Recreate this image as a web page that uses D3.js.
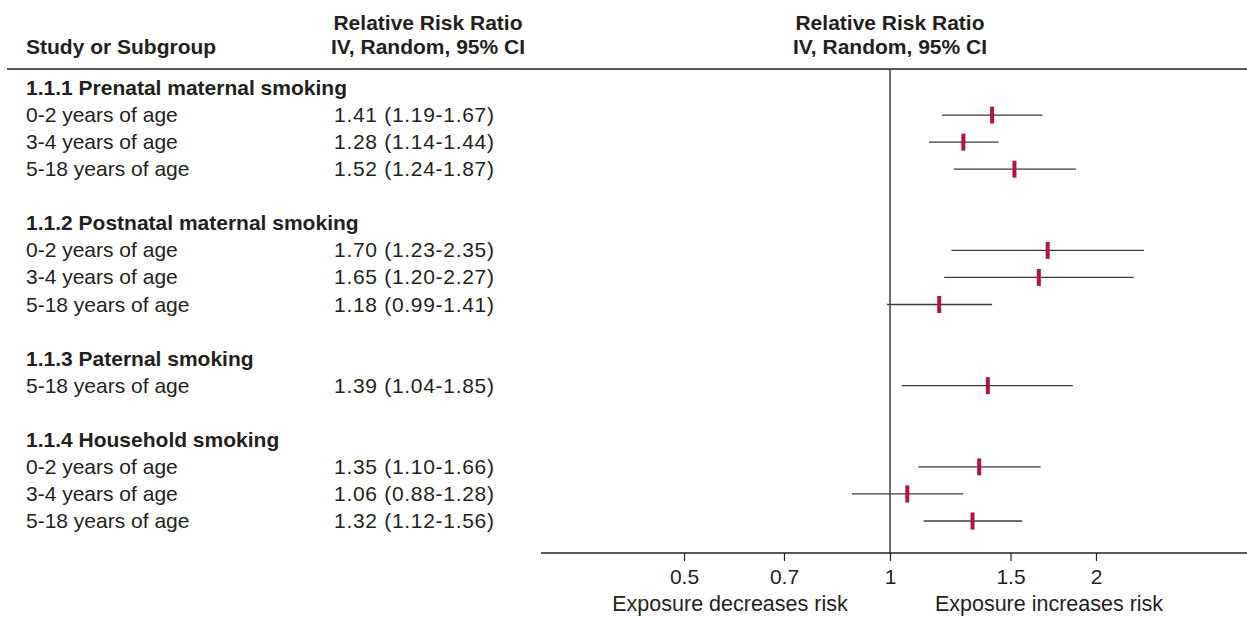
<!DOCTYPE html>
<html><head><meta charset="utf-8">
<script src="https://cdn.jsdelivr.net/npm/d3@7"></script>
<style>
body{margin:0;background:#fff;}
text{font-family:"Liberation Sans",Arial,Helvetica,sans-serif;fill:#231f20;}
</style></head>
<body>
<svg id="c" width="1247" height="617"></svg>
<script>
// ---- data ----
const groups = ["1.1.1 Prenatal maternal smoking","1.1.2 Postnatal maternal smoking","1.1.3 Paternal smoking","1.1.4 Household smoking"];
const rowGroup = [0,0,0,1,1,1,2,3,3,3];
const rowLabels = ["0-2 years of age","3-4 years of age","5-18 years of age","0-2 years of age","3-4 years of age","5-18 years of age","5-18 years of age","0-2 years of age","3-4 years of age","5-18 years of age"];
const rr    = [1.41,1.28,1.52,1.70,1.65,1.18,1.39,1.35,1.06,1.32];
const lower = [1.19,1.14,1.24,1.23,1.20,0.99,1.04,1.10,0.88,1.12];
const upper = [1.67,1.44,1.87,2.35,2.27,1.41,1.85,1.66,1.28,1.56];
const tickValues = [0.5,0.7,1,1.5,2];
const tickLabels = ["0.5","0.7","1","1.5","2"];

const svg = d3.select("#c");
const fmt = d3.format(".2f");

const layout = [];
let idx = 0;
groups.forEach((g, gi) => {
  layout.push({type:"header", text:g, i:idx++});
  rowLabels.forEach((l, ri) => { if (rowGroup[ri] === gi) layout.push({type:"row", r:ri, i:idx++}); });
  idx++;
});
const y = d3.scaleLinear().domain([0, 16]).range([88, 521]);
const x = d3.scaleLog().domain([0.5, 2]).range([684, 1096]);
const plotLeft = 541, plotRight = 1247, axisY = 553, topLine = 69;
const FS = 21;

svg.append("text").attr("x", 26).attr("y", 54).attr("font-size", FS).attr("font-weight", "bold").text("Study or Subgroup");
[428, 890].forEach(cx => {
  svg.append("text").attr("x", cx).attr("y", 30).attr("text-anchor","middle").attr("font-size",FS).attr("font-weight","bold").text("Relative Risk Ratio");
  svg.append("text").attr("x", cx).attr("y", 54).attr("text-anchor","middle").attr("font-size",FS).attr("font-weight","bold").text("IV, Random, 95% CI");
});
svg.append("line").attr("x1", 7).attr("x2", 1247).attr("y1", topLine).attr("y2", topLine).attr("stroke", "#231f20").attr("stroke-width", 1.5);

svg.append("line").attr("x1", x(1)).attr("x2", x(1)).attr("y1", topLine).attr("y2", axisY).attr("stroke", "#231f20").attr("stroke-width", 1.3);

layout.forEach(d => {
  const yy = y(d.i);
  if (d.type === "header") {
    svg.append("text").attr("x", 26).attr("y", yy + 7).attr("font-size", FS).attr("font-weight", "bold").text(d.text);
  } else {
    const r = d.r;
    svg.append("text").attr("x", 26).attr("y", yy + 7).attr("font-size", FS).text(rowLabels[r]);
    svg.append("text").attr("x", 334).attr("y", yy + 7).attr("font-size", FS).attr("letter-spacing", 0.7)
      .text(`${fmt(rr[r])} (${fmt(lower[r])}-${fmt(upper[r])})`);
    svg.append("line").attr("x1", x(lower[r])).attr("x2", x(upper[r])).attr("y1", yy).attr("y2", yy)
      .attr("stroke", "#3a3a3a").attr("stroke-width", 1.3);
    svg.append("rect").attr("x", x(rr[r]) - 2).attr("y", yy - 8.5).attr("width", 4).attr("height", 17).attr("fill", "#b5104e");
  }
});

svg.append("line").attr("x1", plotLeft).attr("x2", plotRight).attr("y1", axisY).attr("y2", axisY).attr("stroke", "#231f20").attr("stroke-width", 1.3);
const ax = svg.append("g").attr("transform", `translate(0,${axisY})`)
  .call(d3.axisBottom(x).tickValues(tickValues).tickFormat((v,i) => tickLabels[i]).tickSize(8).tickPadding(8));
ax.select(".domain").remove();
ax.selectAll(".tick line").attr("stroke", "#231f20").attr("stroke-width", 1.2);
ax.selectAll(".tick text").attr("font-size", 21).attr("fill", "#231f20").style("font-family", '"Liberation Sans",Arial,sans-serif');

svg.append("text").attr("x", 730).attr("y", 611).attr("text-anchor","middle").attr("font-size",21.5).text("Exposure decreases risk");
svg.append("text").attr("x", 1049).attr("y", 611).attr("text-anchor","middle").attr("font-size",21.5).text("Exposure increases risk");
</script>
</body></html>
